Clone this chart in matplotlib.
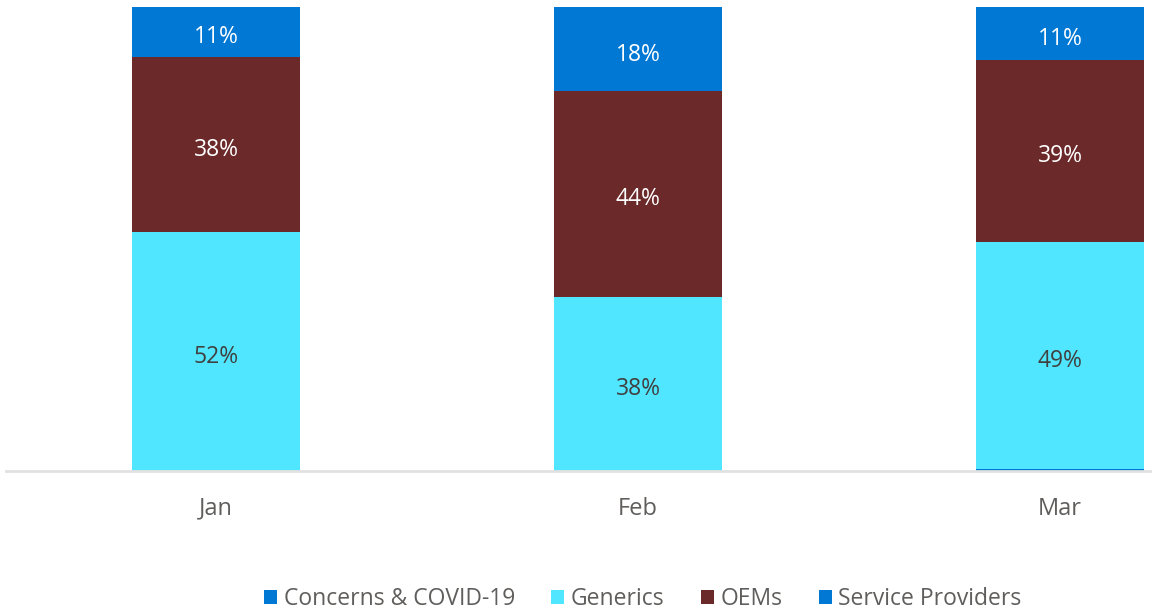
import matplotlib
matplotlib.use("Agg")
import matplotlib.pyplot as plt
from matplotlib.patches import Patch

categories = ["Jan", "Feb", "Mar"]
series_names = ["Concerns & COVID-19", "Generics", "OEMs", "Service Providers"]
concerns = [0.0, 0.0, 0.5]
generics = [51.6, 37.6, 48.9]
oems = [37.7, 44.3, 39.2]
service = [10.7, 18.1, 11.4]

colors = ["#0078D4", "#50E6FF", "#6B2929", "#0078D4"]
text_colors = ["white", "#404040", "white", "white"]

plt.rcParams['font.family'] = ['Open Sans', 'DejaVu Sans']

fig = plt.figure(figsize=(11.52, 6.10), dpi=100)
ax = fig.add_axes([6/1152, 139/610, 1146/1152, 464/610])

x = list(range(len(categories)))
bottoms = [0.0] * len(categories)
width = 0.398
for vals, col, tcol in zip([concerns, generics, oems, service], colors, text_colors):
    ax.bar(x, vals, width=width, bottom=bottoms, color=col, linewidth=0)
    for i, v in enumerate(vals):
        if v >= 3:
            ax.annotate(f"{round(v):.0f}%", (x[i], bottoms[i] + v / 2), xytext=(0, -4),
                        textcoords="offset points", ha="center", va="center",
                        color=tcol, fontsize=16.5)
    bottoms = [b + v for b, v in zip(bottoms, vals)]

ax.set_xlim(-0.4976, 2.218)
ax.set_ylim(0, 100)
ax.set_yticks([])
ax.set_xticks(x)
ax.set_xticklabels(categories, fontsize=17, color="#605E5C")
ax.tick_params(axis="x", length=0, pad=18.5)
for s in ["top", "right", "left"]:
    ax.spines[s].set_visible(False)
ax.spines["bottom"].set_color("#E1E1E1")
ax.spines["bottom"].set_linewidth(2)

handles = [Patch(facecolor=c, edgecolor="none") for c in colors]
fig.legend(handles, series_names, loc="center", bbox_to_anchor=(0.558, 0.018), ncol=4,
           frameon=False, fontsize=16.5, labelcolor="#605E5C", handlelength=0.57, handleheight=0.57,
           handletextpad=0.3, columnspacing=1.57)

fig.savefig("out.png", dpi=100)
